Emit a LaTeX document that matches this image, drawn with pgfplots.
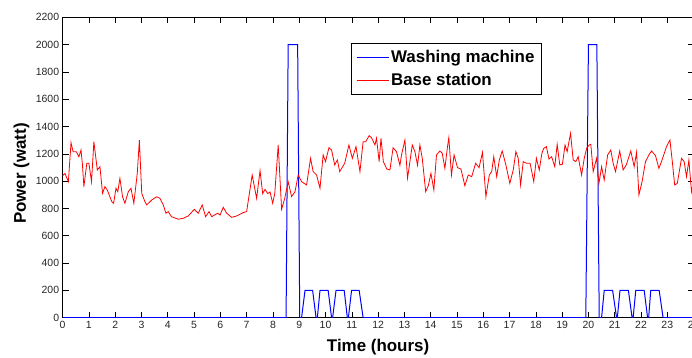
\documentclass[border=0pt]{standalone}
\usepackage{pgfplots}
\pgfplotsset{compat=1.18}
\usepackage{fontspec}
\setmainfont{Liberation Sans}
\definecolor{mblue}{RGB}{0,0,255}
\definecolor{mred}{RGB}{255,0,0}
\begin{document}
\begin{tikzpicture}
\begin{axis}[
 at={(62.6bp,40.3bp)}, anchor=south west,
 scale only axis, width=631bp, height=300.4bp,
 xmin=0, xmax=24, ymin=0, ymax=2200,
 xtick={0,...,24}, ytick={0,200,...,2200},
 tick align=inside, major tick length=6bp,
 tick style={black, line width=0.6bp},
 axis line style={line width=0.8bp},
 ticklabel style={font=\fontsize{10.5}{12}\selectfont, text=black!85},
 /pgf/number format/assume math mode=true,
 /pgf/number format/1000 sep={},
 scaled y ticks=false,
 xlabel={Time (hours)}, ylabel={Power (watt)},
 label style={font=\fontsize{17}{20}\selectfont\bfseries},
 xlabel style={at={(axis description cs:0.5,-0.114)}, anchor=base},
 ylabel style={at={(axis description cs:-0.0523,0.48)}, anchor=south, inner sep=0pt},
 legend style={at={(0.457,0.914)}, anchor=north west, draw=black, line width=0.8bp,
   font=\fontsize{17}{20}\selectfont\bfseries, inner xsep=4.7bp, inner ysep=4bp,
   nodes={inner sep=2bp, text height=12.5bp, text depth=3.6bp}, row sep=3bp},
 legend cell align=left,
 legend image code/.code={\draw[#1] (0bp,0bp) -- (32bp,0bp);},
]
\addplot[color=mblue, line width=1bp] coordinates {
(0,0) (8.5,0) (8.58,2000) (8.94,2000) (9.02,0) (9.09,0) (9.22,200) (9.51,200) (9.64,0)
(9.69,0) (9.79,200) (10.1,200) (10.23,0) (10.27,0) (10.4,200) (10.71,200) (10.83,0)
(10.87,0) (10.99,200) (11.28,200) (11.43,0) (19.9,0) (20.0,2000) (20.32,2000) (20.41,0)
(20.5,0) (20.6,200) (20.92,200) (21.07,0) (21.1,0) (21.2,200) (21.52,200) (21.66,0)
(21.7,0) (21.8,200) (22.12,200) (22.25,0) (22.29,0) (22.37,200) (22.69,200) (22.84,0) (24,0)
};
\addlegendentry{Washing machine}
\addplot[color=mred, line width=0.8bp] coordinates {
(0.0,1040) (0.09,1057) (0.22,996) (0.32,1282) (0.40,1216) (0.52,1216) (0.62,1179) (0.70,1228)
(0.75,1131) (0.81,960) (0.92,1131) (1.0,1131) (1.1,996) (1.19,1289) (1.32,1082) (1.42,1106)
(1.52,911) (1.61,960) (1.7,935) (1.87,850) (1.94,838) (2.03,948) (2.1,923) (2.18,1021)
(2.28,886) (2.37,838) (2.5,923) (2.6,948) (2.71,838) (2.84,1057) (2.92,1301) (3.01,911)
(3.13,850) (3.2,826) (3.39,862) (3.58,886) (3.7,874) (3.83,826) (3.93,765) (4.02,777)
(4.14,740) (4.40,721) (4.59,728) (4.78,745) (5.01,794) (5.16,765) (5.31,826) (5.44,740)
(5.57,777) (5.67,740) (5.9,765) (5.99,752) (6.11,809) (6.24,765) (6.43,735) (6.62,745)
(6.87,770) (7.0,777) (7.21,1045) (7.38,874) (7.51,1077) (7.61,909) (7.7,940) (7.8,909)
(7.89,921) (7.99,838) (8.07,909) (8.2,1265) (8.33,794) (8.45,875) (8.58,996) (8.71,887)
(8.84,923) (8.96,1045) (9.09,996) (9.28,972) (9.43,1167) (9.53,1070) (9.66,1045) (9.79,948)
(9.91,1192) (10.0,1143) (10.13,1245) (10.23,1228) (10.35,1119) (10.45,1155) (10.54,1070)
(10.73,1131) (10.89,1265) (11.02,1167) (11.16,1253) (11.31,1070) (11.43,1289) (11.53,1289)
(11.66,1333) (11.75,1318) (11.88,1265) (11.94,1314) (12.04,1143) (12.11,1314) (12.2,1143)
(12.33,1089) (12.45,1082) (12.57,1245) (12.7,1216) (12.83,1116) (12.89,1192) (13.02,1301)
(13.12,1021) (13.3,1265) (13.4,1216) (13.5,1116) (13.59,1265) (13.68,1167) (13.81,923)
(13.91,967) (14.01,1057) (14.12,935) (14.22,1192) (14.35,1221) (14.44,1204) (14.54,1094)
(14.64,1253) (14.69,1318) (14.79,1045) (14.89,1192) (15.02,1099) (15.15,1089) (15.3,967)
(15.43,1045) (15.56,1033) (15.71,1131) (15.84,1099) (15.97,1211) (16.1,886) (16.23,1045)
(16.32,1070) (16.4,1179) (16.51,1033) (16.61,1155) (16.72,1221) (16.86,1119) (17.01,984)
(17.14,1082) (17.24,1216) (17.33,1167) (17.42,972) (17.52,1143) (17.65,1131) (17.78,1131)
(17.92,996) (18.02,1167) (18.13,1082) (18.23,1204) (18.30,1240) (18.4,1253) (18.5,1162)
(18.6,1179) (18.72,1106) (18.81,1270) (18.91,1119) (19.01,1124) (19.11,1265) (19.19,1216)
(19.32,1350) (19.42,1155) (19.52,1143) (19.61,1179) (19.74,1045) (19.84,1167) (19.93,1240)
(20.03,1265) (20.09,1270) (20.18,1070) (20.31,1167) (20.4,984) (20.5,1106) (20.6,1009)
(20.73,1192) (20.85,1228) (20.94,1131) (21.03,1070) (21.19,1221) (21.32,1082) (21.44,1119)
(21.61,1221) (21.74,1106) (21.83,1211) (21.92,899) (22.04,996) (22.17,1143) (22.3,1192)
(22.4,1221) (22.55,1187) (22.68,1094) (22.8,1155) (22.97,1253) (23.1,1301) (23.19,1143)
(23.28,972) (23.38,984) (23.54,1167) (23.64,1143) (23.73,1033) (23.82,1155) (23.92,923)
(24.0,1000)
};
\addlegendentry{Base station}
\end{axis}
\pgfresetboundingbox
\path[use as bounding box] (0,0) rectangle (692bp,358bp);
\end{tikzpicture}
\end{document}
